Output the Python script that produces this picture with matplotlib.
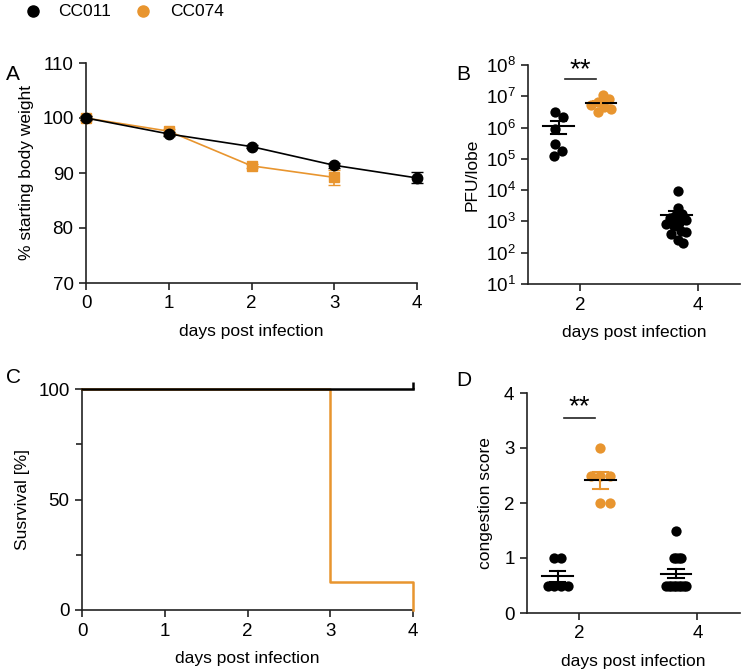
import numpy as np
import matplotlib.pyplot as plt
from matplotlib.lines import Line2D

plt.rcParams['font.family'] = ['Liberation Sans', 'DejaVu Sans']
plt.rcParams['mathtext.fontset'] = 'custom'
plt.rcParams['mathtext.rm'] = 'Liberation Sans'
plt.rcParams['mathtext.default'] = 'regular'

BLACK = '#000000'
ORANGE = '#E8952F'
AXC = '#222222'

# ── data ─────────────────────────────────────────────────────────
# A: body weight
days_cc011 = [0, 1, 2, 3, 4]
weight_cc011 = [100, 97.1, 94.8, 91.4, 89.1]
weight_cc011_sem = [0.3, 0.4, 0.3, 0.4, 1.0]
days_cc074 = [0, 1, 2, 3]
weight_cc074 = [100, 97.6, 91.3, 89.2]
weight_cc074_sem = [0.3, 0.4, 0.4, 1.4]

# B: PFU/lobe
pfu_d2_cc011 = [3.2e6, 2.2e6, 9.3e5, 2.9e5, 1.8e5, 1.2e5]
pfu_d2_cc074 = [1.1e7, 8.4e6, 6.6e6, 5.2e6, 4.6e6, 3.8e6, 3.2e6]
pfu_d4_cc011 = [9.5e3, 2.6e3, 1.7e3, 1.5e3, 1.3e3, 1.1e3, 9.0e2,
                8.0e2, 7.0e2, 5.0e2, 4.5e2, 4.0e2, 2.5e2, 2.0e2]

# C: survival
surv_days_cc011 = [0, 4]
surv_cc011 = [100, 100]
surv_days_cc074 = [0, 3, 4]
surv_cc074 = [100, 12.5, 0]

# D: congestion score
cong_d2_cc011 = [1.0, 1.0, 0.5, 0.5, 0.5, 0.5]
cong_d2_cc074 = [3.0, 2.5, 2.5, 2.5, 2.0, 2.0]
cong_d4_cc011 = [1.5, 1.0, 1.0, 1.0, 1.0, 0.5, 0.5, 0.5, 0.5,
                 0.5, 0.5, 0.5, 0.5, 0.5]

group_days = ['2', '4']
strains = ['CC011', 'CC074']

W, H = 750, 671
fig = plt.figure(figsize=(W / 100, H / 100), dpi=100)

LBL = 12.5
TCK = 13.5


def px_axes(l, t, r, b):
    return fig.add_axes([l / W, 1 - b / H, (r - l) / W, (b - t) / H])


def style(ax):
    for s in ['top', 'right']:
        ax.spines[s].set_visible(False)
    for s in ['left', 'bottom']:
        ax.spines[s].set_linewidth(1.2)
        ax.spines[s].set_color(AXC)
    ax.tick_params(direction='out', length=5, width=1.2, color=AXC,
                   labelsize=TCK, pad=4)


def swarm(ax, xc, vals, diam=9.5, max_half=10.0):
    # beeswarm in display space, squeezed to a max half-width (px)
    pts = ax.transData.transform(np.column_stack([np.full(len(vals), xc), vals]))
    cx = pts[0, 0]
    placed = []
    offs = np.zeros(len(vals))
    order = np.argsort(-np.asarray(vals))
    for i in order:
        y = pts[i, 1]
        cands = [0.0]
        for (px, py) in placed:
            dy = y - py
            if abs(dy) < diam:
                dx = np.sqrt(diam ** 2 - dy ** 2)
                cands += [px + dx, px - dx]
        cands.sort(key=lambda c: (round(abs(c), 6), -c))
        for c in cands:
            if all((c - px) ** 2 + (y - py) ** 2 >= diam ** 2 - 1e-6 for px, py in placed):
                break
        placed.append((c, y))
        offs[i] = c
    offs = offs - (offs.max() + offs.min()) / 2
    widest = np.abs(offs).max()
    if widest > max_half:
        offs = offs * max_half / widest
    inv = ax.transData.inverted()
    return inv.transform(np.column_stack([cx + offs, pts[:, 1]]))[:, 0]


def dot_group(ax, xc, vals, color, mean_color=BLACK):
    vals = np.asarray(vals, dtype=float)
    xs = swarm(ax, xc, vals)
    ax.scatter(xs, vals, s=55, color=color, zorder=3, lw=0)
    m = vals.mean()
    sem = vals.std(ddof=1) / np.sqrt(len(vals))
    ax.plot([xc - 0.13, xc + 0.13], [m, m], color=mean_color, lw=1.5, zorder=4)
    ax.plot([xc, xc], [m - sem, m + sem], color=color, lw=1.5, zorder=4)
    for v in (m - sem, m + sem):
        ax.plot([xc - 0.065, xc + 0.065], [v, v], color=color, lw=1.5, zorder=4)


off = 0.18

# ── Panel A ──────────────────────────────────────────────────────
axA = px_axes(86, 63, 417, 283)
style(axA)
axA.errorbar(days_cc011, weight_cc011, yerr=weight_cc011_sem, color=BLACK,
             marker='o', ms=7.5, lw=1.2, capsize=4, elinewidth=1.2,
             clip_on=False, zorder=4)
axA.errorbar(days_cc074, weight_cc074, yerr=weight_cc074_sem, color=ORANGE,
             marker='s', ms=7, lw=1.2, capsize=4, elinewidth=1.2,
             clip_on=False, zorder=3)
axA.set_xlim(0, 4)
axA.set_ylim(70, 110)
axA.set_xticks([0, 1, 2, 3, 4])
axA.set_yticks([70, 80, 90, 100, 110])
axA.set_xlabel('days post infection', fontsize=LBL, labelpad=8)
axA.set_ylabel('% starting body weight', fontsize=LBL, labelpad=6)

# ── Panel B ──────────────────────────────────────────────────────
axB = px_axes(528, 65, 740, 284)
style(axB)
axB.set_yscale('log')
axB.set_ylim(1e1, 1e8)
axB.set_xlim(-0.44, 1.36)
axB.set_yticks([10.0 ** k for k in range(1, 9)])
axB.set_yticklabels([f'$10^{{{k}}}$' for k in range(1, 9)])
axB.minorticks_off()
axB.set_xticks([0, 1])
axB.set_xticklabels(group_days)
dot_group(axB, 0 - off, pfu_d2_cc011, BLACK)
dot_group(axB, 0 + off, pfu_d2_cc074, ORANGE)
dot_group(axB, 1 - off, pfu_d4_cc011, BLACK)
axB.plot([-0.127, 0.136], [10 ** 7.55, 10 ** 7.55], color=AXC, lw=1.2, clip_on=False)
axB.text(0.005, 10 ** 7.62, '**', ha='center', va='baseline', fontsize=20, clip_on=False)
axB.set_xlabel('days post infection', fontsize=LBL, labelpad=8)
axB.set_ylabel('PFU/lobe', fontsize=LBL, labelpad=4)

# ── Panel C ──────────────────────────────────────────────────────
axC = px_axes(82, 389, 413, 610)
style(axC)
axC.step(surv_days_cc074, surv_cc074, where='post', color=ORANGE, lw=1.8,
         clip_on=False, zorder=3)
axC.step(surv_days_cc011, surv_cc011, where='post', color=BLACK, lw=1.8,
         clip_on=False, zorder=4)
axC.plot([surv_days_cc011[-1]], [surv_cc011[-1]], marker=2, ms=5, mew=1.8,
         color=BLACK, clip_on=False, zorder=4)
axC.set_xlim(0, 4)
axC.set_ylim(0, 100)
axC.set_xticks([0, 1, 2, 3, 4])
axC.set_yticks([0, 50, 100])
axC.set_yticks([25, 75], minor=True)
axC.tick_params(which='minor', direction='out', length=4, width=1.2, color=AXC)
axC.set_xlabel('days post infection', fontsize=LBL, labelpad=8)
axC.set_ylabel('Susrvival [%]', fontsize=LBL, labelpad=6)

# ── Panel D ──────────────────────────────────────────────────────
axD = px_axes(527, 393, 740, 613)
style(axD)
axD.set_ylim(0, 4)
axD.set_xlim(-0.44, 1.36)
axD.set_yticks([0, 1, 2, 3, 4])
axD.set_xticks([0, 1])
axD.set_xticklabels(group_days)
dot_group(axD, 0 - off, cong_d2_cc011, BLACK)
dot_group(axD, 0 + off, cong_d2_cc074, ORANGE)
dot_group(axD, 1 - off, cong_d4_cc011, BLACK)
axD.plot([-0.127, 0.136], [3.55, 3.55], color=AXC, lw=1.2, clip_on=False)
axD.text(0.005, 3.62, '**', ha='center', va='baseline', fontsize=20, clip_on=False)
axD.set_xlabel('days post infection', fontsize=LBL, labelpad=8)
axD.set_ylabel('congestion score', fontsize=LBL, labelpad=8)

# ── panel letters + legend ───────────────────────────────────────
for lab, (x, y) in zip('ABCD', [(6, 75), (456, 75), (6, 378), (456, 380)]):
    fig.text(x / W, 1 - y / H, lab, fontsize=15, va='center', ha='left')

# legend drawn by hand so the dots/labels sit where the reference has them
for name, c, (mx, tx) in zip(strains, (BLACK, ORANGE), [(33, 58), (143, 170)]):
    fig.add_artist(Line2D([mx / W], [1 - 11 / H], marker='o', ms=8, color=c,
                          ls='', transform=fig.transFigure))
    fig.text(tx / W, 1 - 11 / H, name, fontsize=12.5, va='center', ha='left')

fig.savefig('out.png', dpi=100)
